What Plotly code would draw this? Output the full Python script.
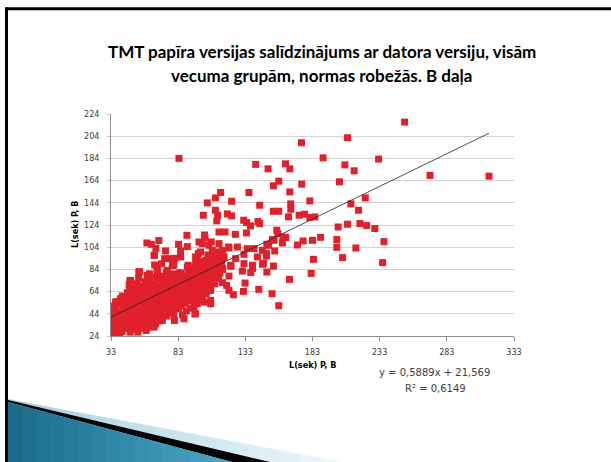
import plotly.graph_objects as go

# ---------------- data ----------------
# sparse / individually readable points
x_sparse = [83.6, 174.8, 209.1, 190.9, 140.7, 149.9, 162.9, 166.1, 207.1, 175.0,
            203.1, 157.9, 153.9, 166.1, 135.7, 114.6, 110.7, 104.7, 122.8, 166.8,
            181.0, 211.6, 143.7, 110.7, 101.7, 112.4, 111.7, 119.6, 122.8, 166.8,
            153.9, 157.9, 165.1, 173.0, 177.0, 184.7, 181.0, 131.8, 134.0, 136.8,
            142.4, 143.7, 89.5, 202.1, 209.1, 113.4, 117.9, 125.6, 133.8, 102.7,
            156.4, 157.2, 163.1, 160.6, 153.2, 149.0, 176.0, 171.8, 183.0, 189.0,
            201.1, 201.1, 205.4, 183.7, 182.0, 165.9, 59.7, 63.0, 66.4, 68.6,
            65.4, 73.6, 76.6, 80.6, 83.3, 89.8, 67.4, 54.2, 79.4, 90.5,
            101.0, 102.9, 107.7, 113.4, 120.4, 127.1, 134.5, 139.5, 125.8, 132.0,
            142.0, 148.7, 154.9, 146.5, 153.9, 149.0, 137.0, 130.8, 138.3, 122.3,
            115.9, 114.1, 120.8, 107.2, 97.3, 99.7, 103.5, 109.6, 113.4, 117.1,
            96.0, 102.2, 98.5, 105.9, 74.9, 84.8, 89.8, 60.5, 47.5,
            251.6, 232.2, 214.0, 270.5, 314.4, 222.3, 217.3, 218.3, 223.3, 229.4,
            215.3, 236.2, 235.2,
            157.9, 152.9, 143.0, 131.6, 132.8, 124.1, 120.8, 119.1, 115.9, 107.2,
            106.4, 99.7, 96.0, 98.5, 102.2, 107.2, 94.7, 95.4, 97.3, 103.5,
            122.1, 132.0, 138.3, 145.7, 114.6, 104.7, 109.6, 102.2, 93.5, 97.3,
            161.1, 150.2, 154.4, 98.5, 105.9, 108.4, 120.8, 145.7, 148.7,
            84.8, 96.0, 98.0, 79.8, 90.5]
y_sparse = [184.0, 198.1, 202.6, 184.5, 178.6, 174.6, 179.1, 174.6, 178.2, 160.8,
            162.9, 163.5, 159.3, 153.8, 153.3, 153.3, 148.4, 143.9, 145.4, 143.0,
            145.7, 143.0, 141.8, 137.3, 132.8, 132.8, 127.7, 134.0, 132.2, 138.2,
            136.4, 136.4, 131.3, 132.8, 133.7, 131.3, 130.7, 128.3, 126.2, 123.2,
            127.1, 125.3, 114.7, 122.2, 124.7, 117.7, 117.7, 115.6, 116.8, 115.0,
            119.3, 116.3, 112.7, 107.8, 110.9, 106.6, 109.6, 106.0, 110.2, 112.9,
            110.9, 103.9, 94.6, 93.1, 80.4, 75.0, 107.8, 106.6, 103.0, 110.0,
            96.7, 100.6, 93.7, 94.0, 106.6, 104.5, 84.7, 82.0, 87.7, 86.1,
            107.2, 112.7, 108.7, 107.2, 104.2, 104.2, 102.7, 102.7, 93.7, 97.6,
            95.2, 96.1, 100.6, 89.7, 87.0, 81.6, 81.1, 82.5, 84.7, 86.8,
            84.7, 80.7, 78.0, 87.7, 95.2, 99.7, 92.2, 98.2, 99.7, 95.2,
            89.2, 84.7, 80.2, 80.2, 83.1, 80.2, 78.0, 78.6, 74.1,
            216.7, 183.4, 172.8, 168.7, 168.0, 148.4, 137.3, 125.3, 123.5, 120.8,
            103.3, 109.0, 90.1,
            51.3, 62.1, 66.0, 64.2, 71.7, 61.2, 65.1, 69.6, 72.0, 65.1,
            71.1, 75.6, 72.6, 59.0, 54.5, 53.1, 50.0, 44.0, 62.1, 62.1,
            87.7, 89.2, 87.7, 88.6, 93.0, 84.7, 77.1, 71.1, 68.1, 53.1,
            113.2, 105.7, 110.2, 108.7, 105.7, 101.2, 103.3, 101.2, 98.2,
            100.6, 95.2, 98.2, 88.6, 87.7]

# dense cluster in the lower-left corner
x_dense = [33.9, 39.6, 36.4, 42.5, 32.0, 60.0, 62.4, 36.4, 40.1, 42.5,
           48.8, 47.0, 53.7, 60.0, 67.4, 65.0, 72.9, 78.6, 84.8, 89.8,
           92.3, 97.3, 96.0, 99.7, 103.5, 107.2, 87.3, 79.8, 71.2, 66.2,
           52.5, 47.5,
           33.5, 35.2, 33.8, 34.6, 35.5, 33.2,
           37.8, 36.6, 38.4, 37.1, 38.8, 36.9, 37.5,
           41.2, 40.3, 41.8, 40.6, 42.0, 40.9, 41.5,
           44.1, 43.4, 45.0, 43.8, 44.6, 43.2, 45.2,
           47.2, 46.4, 48.0, 46.9, 47.6, 46.2, 48.1, 47.0, 46.5,
           50.3, 49.4, 51.0, 49.9, 50.7, 49.2, 51.2, 50.0,
           53.1, 52.4, 54.0, 52.9, 53.7, 52.2, 54.2, 53.0, 52.6, 53.6,
           56.2, 55.4, 57.0, 55.9, 56.7, 55.2, 57.2, 56.0,
           59.1, 58.3, 60.0, 58.8, 59.6, 58.2, 60.2, 59.0, 58.6,
           62.2, 61.4, 63.0, 61.8, 62.7, 61.2, 63.1, 62.0, 61.6,
           65.1, 64.4, 66.0, 64.8, 65.7, 64.2, 66.2, 65.0, 64.6, 65.5,
           68.2, 67.4, 69.0, 67.8, 68.7, 67.2, 69.1, 68.0, 67.6,
           71.1, 70.4, 72.0, 70.8, 71.7, 70.2, 72.2, 71.0, 70.6,
           74.2, 73.4, 75.0, 73.8, 74.7, 73.2, 75.1, 74.0,
           77.1, 76.4, 78.0, 76.8, 77.7, 76.2, 78.2,
           80.2, 79.4, 81.0, 79.8, 80.7, 79.2, 81.1, 80.0,
           83.1, 82.4, 84.0, 82.8, 83.7, 82.2, 84.2,
           86.2, 85.4, 87.0, 85.8, 86.7, 85.2, 87.1,
           89.1, 88.4, 90.0, 88.8, 89.7, 88.2, 90.2,
           92.2, 91.4, 93.0, 91.8, 92.7, 91.2, 93.1,
           95.1, 94.4, 96.0, 94.8, 95.7, 94.2, 96.2,
           98.2, 97.4, 99.0, 97.8, 98.7, 97.2, 99.1,
           101.1, 100.4, 102.0, 100.8, 101.7, 100.2,
           104.2, 103.4, 105.0, 103.8, 104.7, 103.2, 105.1,
           107.1, 106.4, 108.0, 106.8, 107.7, 106.2,
           110.2, 109.4, 111.0, 109.8, 110.7,
           113.1, 112.4, 114.0, 112.8, 113.7,
           116.2, 115.4, 117.0, 116.0]
y_dense = [30.5, 25.4, 35.0, 41.0, 41.0, 31.4, 33.5, 54.5, 57.6, 59.0,
           66.6, 73.5, 81.6, 78.6, 84.0, 96.7, 93.7, 87.7, 95.2, 86.1,
           78.6, 72.6, 44.0, 56.0, 62.1, 56.0, 39.5, 42.5, 38.0, 35.0,
           33.5, 30.5,
           27.0, 32.0, 37.5, 43.0, 47.5, 51.0,
           25.5, 30.0, 35.0, 40.5, 45.0, 50.0, 55.0,
           28.0, 33.5, 38.0, 44.0, 49.0, 53.5, 60.0,
           31.0, 36.0, 41.5, 46.5, 52.0, 57.0, 63.0,
           27.5, 33.0, 38.5, 43.5, 49.0, 54.5, 59.0, 65.0, 70.0,
           30.0, 35.5, 41.0, 46.0, 51.5, 56.5, 62.0, 67.5,
           27.5, 33.0, 38.5, 44.0, 49.0, 54.5, 60.0, 65.0, 71.0, 76.0,
           31.0, 36.5, 42.0, 47.0, 52.5, 58.0, 63.5, 69.0,
           29.0, 34.5, 40.0, 45.5, 50.5, 56.0, 61.5, 67.0, 73.0,
           35.5, 41.0, 46.5, 51.5, 57.0, 62.5, 68.0, 74.0, 80.0,
           32.0, 38.0, 43.5, 48.5, 54.0, 59.5, 65.0, 70.5, 77.0, 88.0,
           37.5, 42.0, 47.5, 53.0, 58.0, 63.5, 69.0, 75.0, 81.0,
           40.0, 45.5, 51.0, 56.0, 61.5, 67.0, 72.5, 78.0, 89.0,
           42.0, 48.0, 53.5, 58.5, 64.0, 69.5, 75.0, 81.0,
           45.0, 50.5, 56.0, 61.0, 66.5, 72.0, 77.5,
           38.0, 47.0, 52.5, 58.0, 63.0, 68.5, 74.0, 80.0,
           48.5, 54.0, 59.5, 64.5, 70.0, 75.5, 81.0,
           43.0, 51.0, 56.5, 62.0, 67.0, 72.5, 78.0,
           46.5, 53.5, 59.0, 64.5, 69.5, 75.0, 81.0,
           49.0, 56.0, 61.5, 67.0, 72.0, 77.5, 83.0,
           53.0, 59.0, 64.5, 69.5, 75.0, 80.5, 86.0,
           57.5, 63.0, 68.5, 74.0, 79.0, 84.5, 91.0,
           60.0, 66.0, 71.5, 77.0, 82.0, 87.5,
           64.0, 70.0, 75.5, 81.0, 86.0, 91.5, 97.0,
           68.0, 73.5, 79.0, 84.5, 89.5, 95.0,
           71.0, 77.0, 82.5, 88.0, 93.0,
           76.0, 82.0, 87.5, 93.0, 98.0,
           84.0, 89.5, 95.0, 101.0]

x_vals = x_sparse + x_dense
y_vals = y_sparse + y_dense

slope = 0.5889
intercept = 21.569

title_lines = ["TMT papīra versijas salīdzinājums ar datora versiju, visām",
               "vecuma grupām, normas robežās. B daļa"]
axis_title = "L(sek) P, B"
eq_lines = ["y = 0,5889x + 21,569", "R² = 0,6149"]

# ---------------- geometry helpers ----------------
W, H = 611, 462
ML, MR, MT, MB = 111, 97, 114, 126
PW, PH = W - ML - MR, H - MT - MB


def fx(px):
    return (px - ML) / PW


def fy(py):
    return (H - MB - py) / PH


def path(points):
    return "M " + " L ".join(f"{fx(a):.4f},{fy(b):.4f}" for a, b in points) + " Z"


def mix(c0, c1, t):
    a = [int(c0[i:i + 2], 16) for i in (1, 3, 5)]
    b = [int(c1[i:i + 2], 16) for i in (1, 3, 5)]
    return "#" + "".join(f"{round(a[k] + (b[k] - a[k]) * t):02x}" for k in range(3))


fig = go.Figure()

fig.add_trace(go.Scatter(
    x=x_vals, y=y_vals, mode="markers",
    marker=dict(symbol="square", size=7, color="#E0202A",
                line=dict(width=0)),
    hoverinfo="x+y", showlegend=False))

xmin, xmax = min(x_vals), max(x_vals)
fig.add_trace(go.Scatter(
    x=[xmin, xmax], y=[slope * xmin + intercept, slope * xmax + intercept],
    mode="lines", line=dict(color="#222222", width=0.8),
    hoverinfo="skip", showlegend=False))

tickfont = dict(family="DejaVu Sans, Open Sans, sans-serif", size=8, color="#3a3a3a")

fig.update_xaxes(range=[33, 333], tick0=33, dtick=50, showgrid=False,
                 showline=True, linecolor="#8c8c8c", linewidth=1,
                 ticks="outside", ticklen=4, tickcolor="#8c8c8c",
                 tickfont=tickfont, zeroline=False, ticklabelstandoff=4)
fig.update_yaxes(range=[24, 224], tick0=24, dtick=20, showgrid=True,
                 gridcolor="#d2d2d2", gridwidth=1,
                 showline=True, linecolor="#8c8c8c", linewidth=1,
                 ticks="outside", ticklen=3, tickcolor="#c8c8c8",
                 tickfont=tickfont, zeroline=False, ticklabelstandoff=6)

anns = []
titlefont = dict(family="Lato, Open Sans, sans-serif", size=17, color="#000000")
anns.append(dict(x=fx(322), y=fy(52), xref="paper", yref="paper", text=f"<b>{title_lines[0]}</b>",
                 showarrow=False, font=titlefont, xanchor="center", yanchor="middle"))
anns.append(dict(x=fx(321), y=fy(75), xref="paper", yref="paper", text=f"<b>{title_lines[1]}</b>",
                 showarrow=False, font=titlefont, xanchor="center", yanchor="middle"))
axfont = dict(family="Liberation Sans Narrow, DejaVu Sans Condensed, sans-serif", size=9, color="#000000")
anns.append(dict(x=fx(312), y=fy(365), xref="paper", yref="paper", text=f"<b>{axis_title}</b>",
                 showarrow=False, font=axfont, xanchor="center", yanchor="middle"))
anns.append(dict(x=fx(75), y=fy(225), xref="paper", yref="paper", text=f"<b>{axis_title}</b>",
                 showarrow=False, font=axfont, xanchor="center", yanchor="middle", textangle=-90))
eqfont = dict(family="DejaVu Sans, Open Sans, sans-serif", size=10, color="#404040")
anns.append(dict(x=fx(434), y=fy(372), xref="paper", yref="paper", text=eq_lines[0],
                 showarrow=False, font=eqfont, xanchor="center", yanchor="middle"))
anns.append(dict(x=fx(435), y=fy(388), xref="paper", yref="paper", text=eq_lines[1],
                 showarrow=False, font=eqfont, xanchor="center", yanchor="middle"))

shapes = []
# slide border (top and left)
shapes.append(dict(type="line", xref="paper", yref="paper", x0=fx(5), x1=fx(611), y0=fy(8.7), y1=fy(8.7),
                   line=dict(color="#000000", width=3)))
shapes.append(dict(type="line", xref="paper", yref="paper", x0=fx(6.5), x1=fx(6.5), y0=fy(7.5), y1=fy(462),
                   line=dict(color="#000000", width=3)))


# decorative swoosh: light band, black band, teal wedge (gradients as slices)
def top_light(x):
    return 399 + (x - 8) * 63 / 335


def top_black(x):
    return 400 + (x - 8) * 62 / 262


def top_teal(x):
    return 402 + (x - 8) * 60 / 224


n = 16
for i in range(n):
    x0 = 8 + (343 - 8) * i / n
    x1 = 8 + (343 - 8) * (i + 1) / n + 0.6
    shapes.append(dict(type="path", xref="paper", yref="paper", layer="above",
                       path=path([(x0, top_light(x0)), (x1, top_light(x1)), (x1, 462), (x0, 462)]),
                       fillcolor=mix("#a9d2e2", "#eef6f9", i / (n - 1)), line=dict(width=0)))
shapes.append(dict(type="path", xref="paper", yref="paper", layer="above",
                   path=path([(8, top_black(8)), (270, 462), (232, 462), (8, top_teal(8))]),
                   fillcolor="#050505", line=dict(width=0)))
for i in range(n):
    x0 = 8 + (232 - 8) * i / n
    x1 = 8 + (232 - 8) * (i + 1) / n + 0.6
    shapes.append(dict(type="path", xref="paper", yref="paper", layer="above",
                       path=path([(x0, top_teal(x0)), (min(x1, 232), top_teal(min(x1, 232))),
                                  (min(x1, 232), 462), (x0, 462)]),
                       fillcolor=mix("#1b6c8b", "#48a6c5", i / (n - 1)), line=dict(width=0)))

fig.update_layout(width=W, height=H, margin=dict(l=ML, r=MR, t=MT, b=MB),
                  paper_bgcolor="white", plot_bgcolor="white",
                  annotations=anns, shapes=shapes, showlegend=False)

fig.write_html("out.html", config={"displayModeBar": False},
               post_script="document.body.style.margin='0';")
